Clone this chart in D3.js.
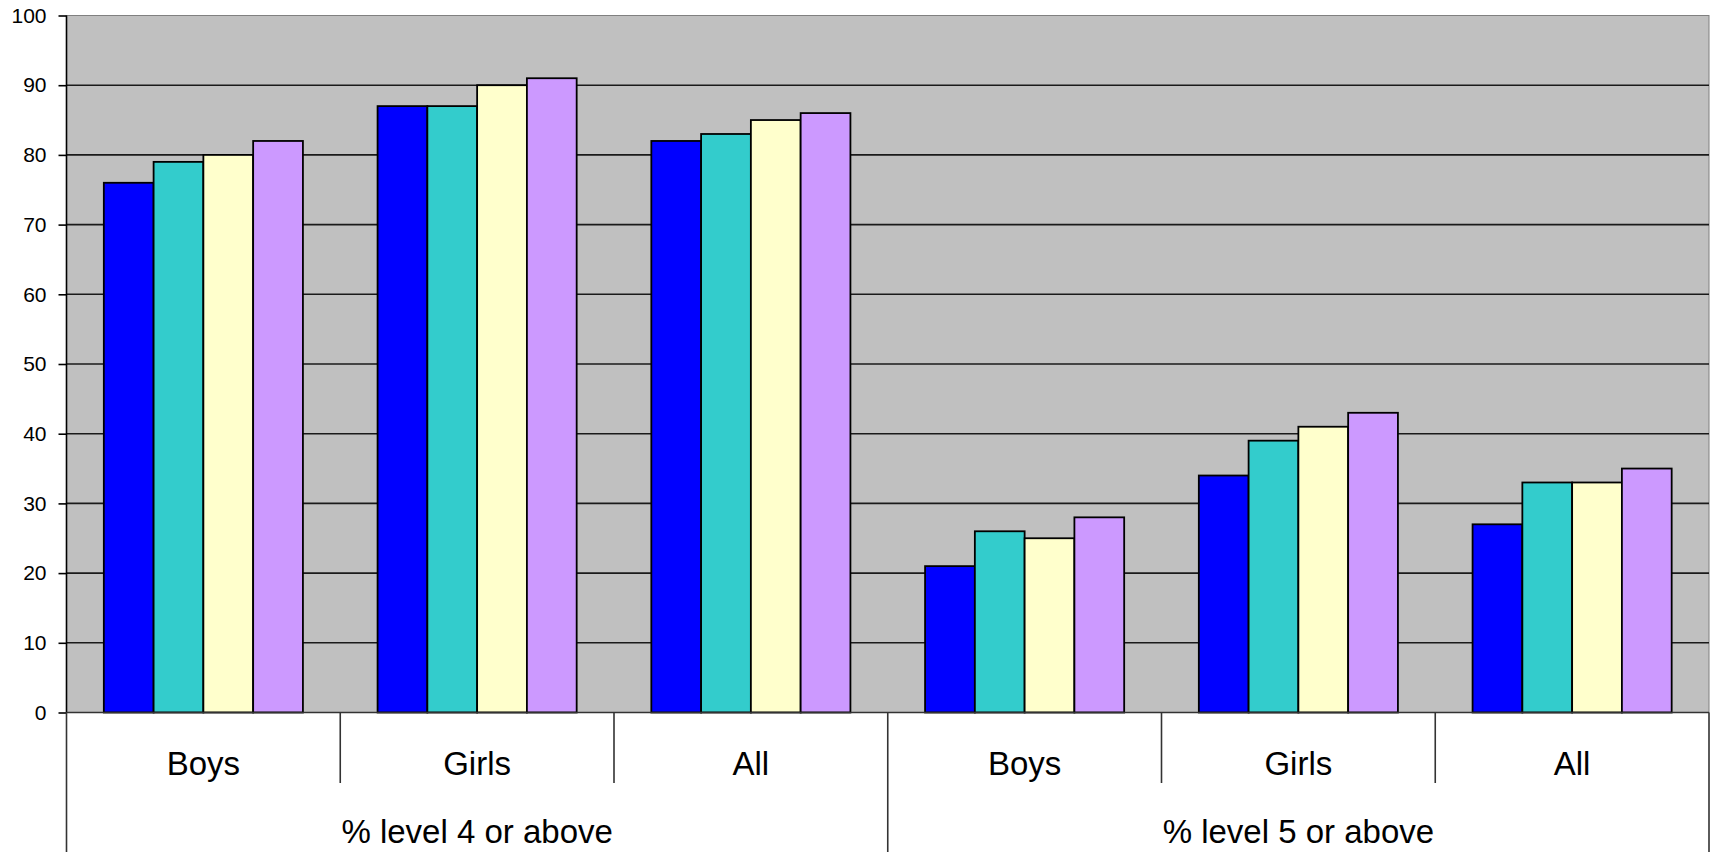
<!DOCTYPE html>
<html>
<head>
<meta charset="utf-8">
<script src="https://d3js.org/d3.v7.min.js"></script>
<style>
  body { margin: 0; background: #fff; }
  svg text { font-family: "Liberation Sans", Arial, sans-serif; fill: #000; }
</style>
</head>
<body>
<div id="chart"></div>
<script>
// data
const groups = ["% level 4 or above", "% level 5 or above"];
const categories = ["Boys", "Girls", "All"];
const seriesNames = ["s1", "s2", "s3", "s4"];
const colors = ["#0000FF", "#33CCCC", "#FFFFCC", "#CC99FF"];
const level4 = [[76, 79, 80, 82], [87, 87, 90, 91], [82, 83, 85, 86]];
const level5 = [[21, 26, 25, 28], [34, 39, 41, 43], [27, 33, 33, 35]];
const yTicks = [0, 10, 20, 30, 40, 50, 60, 70, 80, 90, 100];

const width = 1717, height = 855;
const plotLeft = 66.5, plotRight = 1709, plotTop = 15.5, plotBottom = 712.5;

// flat list of the 6 category slots
const slots = [];
groups.forEach((g, gi) => {
  const vals = gi === 0 ? level4 : level5;
  categories.forEach((c, ci) => slots.push({ key: gi + "-" + ci, group: g, cat: c, values: vals[ci] }));
});

const svg = d3.select("#chart").append("svg")
  .attr("width", width).attr("height", height);

const x = d3.scaleBand().domain(slots.map(d => d.key)).range([plotLeft, plotRight]).paddingInner(0).paddingOuter(0);
const y = d3.scaleLinear().domain([0, 100]).range([plotBottom, plotTop]);
// excel style gap width 150%
const xs = d3.scaleBand().domain(seriesNames).range([0, x.bandwidth()]).paddingInner(0).paddingOuter(0.75);

// plot background
svg.append("rect")
  .attr("x", plotLeft).attr("y", plotTop)
  .attr("width", plotRight - plotLeft).attr("height", plotBottom - plotTop)
  .attr("fill", "#C0C0C0").attr("stroke", "#808080").attr("stroke-width", 1);

// gridlines
svg.append("g").selectAll("line")
  .data(yTicks.filter(t => t > 0 && t < 100))
  .join("line")
  .attr("x1", plotLeft).attr("x2", plotRight)
  .attr("y1", d => y(d)).attr("y2", d => y(d))
  .attr("stroke", "#1a1a1a").attr("stroke-width", 1.6);

// bars
const slotG = svg.append("g").selectAll("g")
  .data(slots).join("g")
  .attr("transform", d => `translate(${x(d.key)},0)`);

slotG.selectAll("rect")
  .data(d => d.values.map((v, i) => ({ name: seriesNames[i], value: v, color: colors[i] })))
  .join("rect")
  .attr("x", d => xs(d.name))
  .attr("width", xs.bandwidth())
  .attr("y", d => y(d.value))
  .attr("height", d => y(0) - y(d.value))
  .attr("fill", d => d.color)
  .attr("stroke", "#000").attr("stroke-width", 1.8);

// y axis
const yAxis = svg.append("g")
  .attr("transform", `translate(${plotLeft},0)`)
  .call(d3.axisLeft(y).tickValues(yTicks).tickSize(8).tickPadding(12));
yAxis.select(".domain").remove();
yAxis.selectAll(".tick line").attr("stroke", "#000").attr("stroke-width", 1.6);
yAxis.selectAll(".tick text").attr("font-size", 21).attr("font-family", "Liberation Sans, Arial, sans-serif").attr("fill", "#000");
svg.append("line")
  .attr("x1", plotLeft).attr("x2", plotLeft).attr("y1", plotTop).attr("y2", plotBottom)
  .attr("stroke", "#000").attr("stroke-width", 1.6);

// x baseline
svg.append("line")
  .attr("x1", plotLeft).attr("x2", plotRight).attr("y1", plotBottom).attr("y2", plotBottom)
  .attr("stroke", "#333").attr("stroke-width", 1.6);

// category separators and labels
const sepShort = slots.map((d, i) => i).filter(i => i > 0 && i % 3 !== 0);
svg.append("g").selectAll("line")
  .data(sepShort).join("line")
  .attr("x1", i => x(slots[i].key)).attr("x2", i => x(slots[i].key))
  .attr("y1", plotBottom).attr("y2", 783)
  .attr("stroke", "#333").attr("stroke-width", 1.6);

const longX = [plotLeft, x(slots[3].key), plotRight];
svg.append("g").selectAll("line")
  .data(longX).join("line")
  .attr("x1", d => d).attr("x2", d => d)
  .attr("y1", plotBottom).attr("y2", 852)
  .attr("stroke", "#333").attr("stroke-width", 1.6);

svg.append("g").selectAll("text")
  .data(slots).join("text")
  .attr("x", d => x(d.key) + x.bandwidth() / 2)
  .attr("y", 775)
  .attr("text-anchor", "middle")
  .attr("font-size", 33)
  .text(d => d.cat);

svg.append("g").selectAll("text")
  .data(groups).join("text")
  .attr("x", (d, i) => (x(slots[i * 3].key) + x(slots[i * 3 + 2].key) + x.bandwidth()) / 2)
  .attr("y", 843)
  .attr("text-anchor", "middle")
  .attr("font-size", 33)
  .text(d => d);
</script>
</body>
</html>
